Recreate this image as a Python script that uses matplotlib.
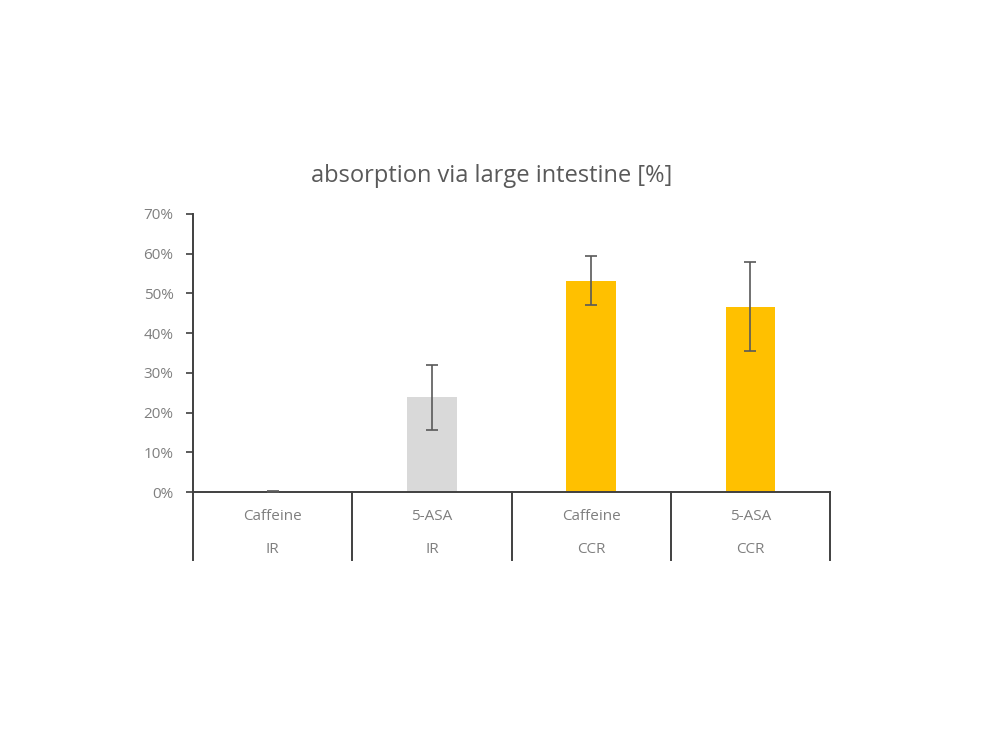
import numpy as np
import matplotlib.pyplot as plt
import matplotlib.transforms as mtransforms
from matplotlib.ticker import PercentFormatter

# data
substances = ['Caffeine', '5-ASA', 'Caffeine', '5-ASA']
formulations = ['IR', 'IR', 'CCR', 'CCR']
absorption = [0.001, 0.238, 0.532, 0.467]
err = [0.001, 0.082, 0.061, 0.112]
bar_colors = ['#d9d9d9', '#d9d9d9', '#ffc000', '#ffc000']

plt.rcParams['font.family'] = ['Open Sans', 'DejaVu Sans']

fig = plt.figure(figsize=(9.91, 7.43), dpi=100)
ax = fig.add_axes([0.1948, 0.3378, 0.6428, 0.3742])

x = np.arange(len(substances))
ax.bar(x, absorption, width=0.31, color=bar_colors, zorder=2)
ax.errorbar(x, absorption, yerr=err, fmt='none', ecolor='#595959',
            elinewidth=1.2, capsize=4, capthick=1.2, zorder=3)

ax.set_xlim(-0.5, len(substances) - 0.5)
ax.set_ylim(0, 0.7)
ax.set_yticks(np.arange(0, 0.71, 0.1))
ax.yaxis.set_major_formatter(PercentFormatter(1.0, decimals=0))
ax.tick_params(axis='y', colors='#404040', labelcolor='#7f7f7f',
               labelsize=11, length=5, width=1.2, direction='out', pad=9)
ax.tick_params(axis='x', bottom=False, labelbottom=False)

for s in ['top', 'right']:
    ax.spines[s].set_visible(False)
for s in ['left', 'bottom']:
    ax.spines[s].set_color('#404040')
    ax.spines[s].set_linewidth(1.4)

# two-level category axis below the plot
trans = mtransforms.blended_transform_factory(ax.transData, ax.transAxes)
for b in np.arange(-0.5, len(substances), 1.0):
    ax.plot([b, b], [0, -0.245], transform=trans, color='#404040',
            lw=1.4, clip_on=False)
for i in range(len(substances)):
    ax.text(x[i], -0.088, substances[i], transform=trans, ha='center',
            va='center', fontsize=11, color='#7f7f7f')
    ax.text(x[i], -0.206, formulations[i], transform=trans, ha='center',
            va='center', fontsize=11, color='#7f7f7f')

fig.text(0.4965, 0.763, 'absorption via large intestine [%]', ha='center',
         va='center', fontsize=17, color='#595959')

fig.savefig('out.png', dpi=100)
